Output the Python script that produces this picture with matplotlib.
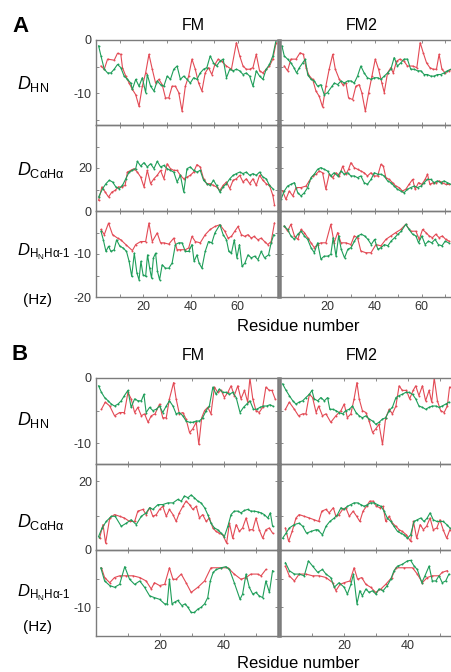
import matplotlib
matplotlib.use("Agg")
import matplotlib.pyplot as plt
from matplotlib.ticker import MultipleLocator, FixedLocator

plt.rcParams['font.family'] = ['Liberation Sans', 'DejaVu Sans']
plt.rcParams['axes.unicode_minus'] = False
plt.rcParams['mathtext.fontset'] = 'custom'
plt.rcParams['mathtext.rm'] = 'Liberation Sans'
plt.rcParams['mathtext.it'] = 'Liberation Sans:italic'

RED = '#e34a55'
GREEN = '#1f9e5a'

# ---------------- data: (residue, value) lists ----------------
# Panel A, FM
A_FM_HN_red = ([2.1, 3.5, 4.9, 7.7, 9.1, 10.5, 11.2, 12.6, 14.0, 15.4, 16.8, 18.2, 19.6, 21.0, 22.4, 23.8, 25.2, 26.6, 28.0, 29.4, 30.8, 32.2, 33.6, 35.0, 36.4, 37.8, 39.2, 40.6, 42.0, 43.4, 44.8, 46.2, 47.6, 49.0, 50.3, 51.7, 53.1, 55.2, 57.3, 59.4, 60.8, 62.2, 63.6, 65.0, 66.4, 67.8, 69.2, 70.6, 72.0, 73.4, 74.8, 76.2],
               [-4.9, -5.5, -3.6, -3.8, -2.5, -2.7, -5.2, -6.8, -8.1, -9.3, -10.3, -12.5, -8.7, -6.2, -2.7, -5.5, -8.1, -7.4, -8.4, -10.9, -10.9, -8.7, -8.7, -9.9, -13.4, -8.7, -6.8, -3.6, -5.5, -8.1, -9.6, -6.2, -5.2, -6.5, -4.6, -3.6, -4.0, -4.9, -5.5, -0.5, -3.0, -4.9, -5.5, -5.5, -5.2, -2.7, -5.8, -6.2, -5.5, -4.9, -3.6, -0.5])
A_FM_HN_green = ([1.1, 2.1, 3.5, 4.9, 6.3, 7.7, 9.1, 10.5, 11.9, 13.3, 14.7, 15.4, 16.8, 18.2, 19.6, 21.0, 21.7, 23.1, 24.5, 25.9, 27.3, 28.7, 30.1, 31.5, 32.9, 34.3, 35.7, 37.1, 38.5, 39.9, 41.3, 42.7, 44.1, 45.5, 46.9, 48.3, 49.7, 51.0, 52.4, 53.8, 55.2, 56.6, 58.0, 59.4, 60.8, 62.2, 63.6, 65.0, 66.4, 67.8, 69.2, 70.6, 72.0, 73.4, 74.8, 76.2],
                 [-1.1, -3.0, -5.5, -6.2, -6.2, -5.5, -4.6, -5.2, -6.8, -7.4, -8.1, -9.3, -7.4, -8.7, -7.1, -9.9, -6.5, -8.7, -9.6, -7.7, -8.4, -8.7, -6.8, -7.4, -5.5, -4.9, -7.4, -6.8, -7.4, -8.1, -7.1, -7.4, -6.2, -5.5, -5.2, -3.0, -4.3, -4.9, -4.0, -3.6, -7.1, -5.5, -5.8, -5.5, -5.8, -6.5, -6.2, -6.8, -8.7, -5.8, -6.8, -7.4, -5.5, -4.6, -3.0, 0.0])
A_FM_CA_red = ([1.1, 2.5, 3.9, 5.3, 6.7, 8.1, 9.5, 10.9, 12.3, 13.3, 14.7, 16.1, 17.5, 18.9, 20.3, 21.7, 23.1, 24.5, 25.9, 27.3, 28.7, 30.1, 31.5, 32.9, 34.3, 35.7, 37.1, 38.5, 39.9, 41.3, 42.7, 44.1, 45.5, 46.9, 48.3, 49.7, 51.0, 52.4, 53.8, 55.2, 56.6, 58.0, 59.4, 60.8, 62.2, 63.6, 65.0, 66.4, 67.8, 69.2, 70.6, 72.0, 73.4, 74.8, 75.5],
               [5.0, 11.2, 8.8, 6.5, 8.8, 9.6, 11.2, 11.2, 11.9, 18.1, 18.9, 19.7, 18.1, 15.8, 11.2, 18.9, 12.7, 15.0, 16.6, 18.9, 15.0, 22.0, 19.7, 18.9, 18.9, 16.6, 15.0, 15.8, 16.6, 18.1, 21.6, 20.5, 15.0, 12.7, 12.7, 11.9, 11.2, 9.6, 11.9, 13.5, 10.4, 14.3, 15.0, 16.6, 13.5, 15.0, 12.7, 15.0, 11.9, 16.6, 14.3, 12.7, 11.9, 7.3, 2.9])
A_FM_CA_green = ([1.1, 2.8, 4.2, 5.6, 7.0, 8.4, 9.8, 11.2, 12.6, 14.0, 15.4, 16.8, 17.5, 18.9, 20.3, 21.7, 23.1, 24.5, 25.9, 27.3, 28.7, 30.1, 31.5, 32.9, 34.3, 35.7, 37.1, 38.5, 39.9, 41.3, 42.7, 44.1, 45.5, 46.9, 48.3, 49.7, 51.0, 52.4, 53.8, 55.2, 56.6, 58.0, 59.4, 60.8, 62.2, 63.6, 65.0, 66.4, 67.8, 69.2, 70.6, 72.0, 73.4, 74.8],
                 [6.5, 10.4, 12.7, 14.3, 13.5, 11.2, 10.4, 11.9, 15.0, 18.1, 18.9, 19.7, 23.1, 20.9, 22.5, 20.5, 22.0, 19.7, 23.1, 20.5, 21.2, 19.7, 18.9, 18.1, 13.5, 16.6, 8.8, 19.7, 20.5, 18.9, 18.1, 18.9, 14.3, 12.7, 11.9, 14.3, 11.9, 8.8, 11.2, 12.7, 15.0, 16.6, 17.4, 18.1, 17.4, 18.1, 16.6, 17.4, 16.6, 18.1, 15.8, 15.0, 11.9, 10.4])
A_FM_HA_red = ([2.1, 3.5, 5.3, 7.0, 9.1, 10.5, 12.6, 15.4, 16.8, 18.9, 21.0, 22.4, 23.8, 25.9, 27.3, 28.7, 30.8, 32.9, 34.3, 35.7, 37.8, 39.2, 40.6, 42.0, 44.1, 46.2, 48.3, 50.3, 52.4, 54.5, 55.9, 57.3, 58.7, 60.1, 61.5, 62.9, 64.3, 65.7, 66.9, 68.5, 69.9, 71.3, 72.7, 74.1, 75.5],
               [-4.3, -5.5, -2.8, -5.5, -6.3, -6.7, -7.8, -9.2, -7.8, -7.1, -7.1, -2.8, -7.1, -5.1, -7.4, -7.4, -7.7, -6.3, -9.0, -9.0, -9.0, -8.6, -5.9, -7.1, -7.4, -5.5, -4.3, -3.6, -3.2, -4.7, -6.3, -5.9, -4.7, -3.6, -5.5, -5.9, -5.5, -6.3, -5.9, -6.7, -6.3, -7.1, -7.8, -7.1, -2.8])
A_FM_HA_green = ([2.1, 3.1, 4.2, 5.3, 6.3, 7.7, 8.7, 10.1, 11.5, 12.9, 14.0, 15.1, 16.2, 17.3, 18.2, 19.0, 19.9, 21.0, 21.8, 22.7, 23.5, 24.3, 25.2, 26.0, 26.9, 28.0, 29.4, 30.8, 32.2, 33.6, 35.0, 36.4, 37.8, 39.2, 40.6, 41.5, 42.7, 43.6, 44.8, 46.2, 47.6, 49.0, 50.3, 52.4, 53.8, 55.2, 56.2, 57.3, 58.5, 59.6, 60.7, 61.8, 63.0, 64.3, 65.7, 67.1, 68.5, 69.9, 71.3, 73.0, 74.1, 75.2],
                 [-4.7, -6.7, -9.4, -8.2, -9.4, -9.0, -6.7, -8.2, -8.6, -9.4, -11.7, -15.2, -9.8, -14.4, -16.0, -11.7, -14.8, -15.2, -10.2, -13.3, -15.6, -10.9, -9.8, -14.0, -16.0, -12.5, -13.3, -13.3, -12.1, -7.8, -7.4, -7.4, -9.4, -9.4, -7.8, -11.7, -10.2, -12.1, -13.3, -9.4, -7.1, -7.4, -5.1, -3.2, -5.5, -6.7, -9.4, -9.8, -6.7, -10.9, -7.8, -12.9, -12.1, -10.2, -10.9, -10.5, -11.3, -9.4, -10.9, -10.2, -7.4, -5.5])

# Panel A, FM2
A_FM2_HN_red = ([1.8, 3.2, 4.6, 6.8, 8.5, 9.9, 11.0, 12.4, 13.8, 15.2, 16.6, 18.0, 19.4, 20.8, 22.3, 23.4, 25.1, 26.5, 27.9, 29.0, 30.7, 32.1, 33.5, 34.6, 36.1, 37.5, 38.9, 40.3, 41.7, 43.1, 44.1, 45.5, 46.9, 47.9, 49.3, 50.7, 52.5, 53.9, 56.1, 57.9, 59.3, 60.6, 62.0, 63.4, 64.8, 66.2, 67.3, 68.5, 69.9, 71.3, 72.7],
                [-4.9, -5.8, -3.6, -3.6, -2.4, -2.7, -5.2, -6.8, -7.4, -9.6, -10.6, -12.6, -8.7, -5.5, -2.7, -5.5, -7.4, -8.4, -8.1, -10.9, -11.2, -8.7, -8.4, -9.9, -13.4, -9.9, -6.8, -3.6, -5.5, -8.1, -9.9, -6.2, -5.2, -6.2, -4.0, -3.6, -4.0, -4.9, -4.9, -5.2, -0.5, -2.4, -4.3, -5.2, -5.5, -5.5, -2.7, -5.5, -6.2, -5.8, -5.5])
A_FM2_HN_green = ([0.8, 1.8, 3.2, 4.6, 5.9, 7.0, 8.2, 9.6, 10.7, 11.7, 13.1, 14.5, 15.9, 17.3, 18.7, 20.1, 22.0, 23.0, 24.4, 25.8, 27.2, 28.6, 30.0, 31.4, 32.8, 34.2, 35.6, 37.0, 38.5, 39.9, 41.3, 42.7, 44.1, 45.5, 46.9, 48.3, 49.7, 51.1, 52.5, 53.9, 55.3, 56.8, 58.2, 59.6, 61.0, 62.4, 63.8, 65.2, 66.6, 68.0, 69.4, 70.8, 72.3],
                  [-1.1, -3.0, -3.6, -4.3, -5.2, -6.2, -5.2, -4.3, -3.6, -6.5, -7.4, -7.7, -8.7, -8.4, -10.3, -9.9, -8.7, -8.1, -8.4, -7.7, -8.1, -7.7, -7.7, -8.1, -6.8, -4.9, -6.2, -7.1, -7.4, -7.1, -7.1, -7.4, -6.8, -6.2, -5.5, -3.3, -4.9, -4.3, -3.6, -3.6, -5.5, -5.5, -5.8, -5.8, -6.5, -6.5, -6.8, -6.8, -6.5, -6.5, -6.2, -5.8, -5.5])
A_FM2_CA_red = ([1.1, 2.5, 3.9, 5.4, 6.8, 8.9, 11.0, 12.4, 13.8, 15.2, 16.6, 18.0, 19.4, 20.8, 22.3, 23.7, 25.1, 26.5, 27.9, 29.0, 30.0, 31.4, 32.8, 34.2, 35.6, 37.0, 38.5, 39.9, 41.3, 42.7, 43.7, 44.8, 46.2, 47.6, 49.0, 50.4, 51.8, 53.2, 54.6, 56.1, 57.2, 58.6, 60.0, 61.4, 62.4, 63.4, 64.8, 65.9, 67.3, 68.7, 70.1, 71.5],
                [9.3, 5.4, 9.3, 7.0, 10.9, 10.9, 11.6, 14.0, 16.3, 17.1, 18.6, 17.8, 10.1, 17.1, 15.5, 17.8, 16.3, 20.9, 17.1, 19.4, 22.5, 20.2, 19.4, 18.6, 17.8, 16.3, 17.8, 16.3, 16.3, 21.7, 20.9, 15.5, 14.7, 13.2, 11.6, 10.9, 9.3, 10.1, 12.4, 14.7, 10.1, 13.2, 12.4, 14.7, 17.1, 12.4, 13.2, 13.2, 14.0, 13.2, 12.4, 12.4])
A_FM2_CA_green = ([0.4, 1.8, 3.2, 4.6, 6.1, 7.5, 8.9, 10.3, 11.7, 13.1, 14.5, 15.9, 17.3, 18.7, 20.1, 21.5, 22.9, 24.4, 25.8, 27.2, 28.6, 30.0, 31.4, 32.8, 34.2, 35.6, 37.0, 38.5, 39.9, 41.3, 42.7, 44.1, 45.5, 46.9, 48.3, 49.7, 51.1, 52.5, 53.9, 55.3, 56.8, 58.2, 59.6, 61.0, 62.4, 63.8, 65.2, 66.6, 68.0, 69.4, 70.8, 72.3],
                  [5.4, 9.3, 11.6, 12.4, 13.2, 8.5, 7.0, 8.5, 10.9, 15.5, 17.1, 19.4, 20.2, 19.4, 18.6, 16.3, 17.8, 16.3, 18.6, 17.1, 17.8, 16.3, 16.3, 15.5, 16.3, 13.2, 12.4, 14.7, 17.8, 17.1, 17.1, 16.3, 14.0, 13.2, 11.6, 10.1, 9.3, 8.5, 10.1, 10.9, 11.6, 10.9, 11.6, 13.2, 14.7, 14.7, 13.2, 14.0, 13.2, 14.0, 13.2, 12.4])
A_FM2_HA_red = ([1.8, 3.2, 4.6, 6.1, 7.5, 8.9, 10.3, 11.7, 13.1, 14.5, 15.9, 17.3, 19.4, 21.5, 22.9, 24.4, 25.8, 27.9, 30.0, 31.4, 32.8, 34.2, 36.3, 38.5, 40.6, 42.7, 44.8, 46.9, 49.0, 51.1, 53.2, 55.3, 57.5, 58.9, 60.3, 61.7, 63.1, 64.5, 65.9, 67.3, 68.7, 70.1, 71.5],
                [-3.5, -4.7, -3.1, -5.8, -6.6, -4.3, -5.0, -6.2, -7.4, -8.5, -7.8, -7.4, -7.4, -3.1, -7.4, -5.0, -7.4, -7.4, -7.8, -5.8, -6.2, -9.3, -9.7, -9.7, -7.8, -8.1, -6.6, -5.8, -5.0, -4.3, -3.1, -4.7, -4.7, -6.6, -4.3, -5.0, -5.8, -6.2, -5.4, -6.2, -5.8, -6.6, -7.0])
A_FM2_HA_green = ([1.8, 3.2, 4.6, 6.1, 7.5, 8.9, 10.3, 11.7, 13.1, 14.5, 15.9, 17.3, 18.7, 20.1, 21.5, 22.5, 23.7, 24.8, 25.9, 27.3, 28.7, 30.1, 31.5, 32.9, 34.4, 35.8, 37.2, 38.6, 40.0, 41.4, 42.8, 44.2, 45.6, 47.0, 48.5, 49.9, 51.3, 53.2, 54.6, 56.1, 57.5, 58.6, 60.0, 61.4, 62.8, 64.2, 65.6, 67.0, 68.5, 69.9, 71.3],
                  [-3.5, -4.3, -5.8, -6.6, -5.4, -4.7, -5.8, -6.6, -8.5, -9.7, -7.4, -11.2, -10.5, -10.5, -10.1, -6.2, -10.5, -5.8, -8.9, -10.9, -8.9, -8.5, -7.0, -5.8, -5.4, -5.8, -6.6, -7.8, -6.6, -8.9, -8.5, -7.8, -8.1, -7.0, -6.2, -5.4, -4.7, -3.1, -4.3, -5.4, -5.8, -7.4, -5.8, -7.8, -7.0, -7.4, -6.6, -7.8, -8.1, -7.0, -7.4])

# Panel B, FM
B_FM_HN_red = ([1.7, 2.9, 4.3, 5.8, 7.4, 8.9, 10.0, 11.0, 12.1, 13.1, 14.2, 15.2, 16.3, 17.3, 18.5, 19.9, 20.9, 22.0, 23.0, 24.3, 25.1, 26.1, 27.2, 28.2, 29.3, 30.3, 31.4, 32.2, 33.1, 34.0, 35.0, 36.0, 37.1, 38.1, 39.2, 40.2, 41.3, 42.3, 43.3, 44.4, 45.4, 46.5, 47.5, 48.2, 49.1, 50.1, 51.1, 52.2, 53.2, 54.3, 55.1, 56.1],
               [-4.8, -3.7, -4.3, -5.8, -5.3, -5.3, -2.2, -3.2, -5.3, -4.5, -5.8, -5.5, -6.8, -5.8, -5.5, -4.0, -6.1, -6.1, -3.2, -0.7, -3.2, -5.5, -5.3, -6.3, -8.4, -7.8, -6.8, -10.2, -6.1, -5.0, -4.5, -5.5, -1.4, -2.2, -1.9, -3.0, -2.2, -1.2, -2.7, -1.2, -3.2, -1.9, -3.7, 0.0, -3.2, -5.0, -5.3, -4.5, -1.4, -1.9, -1.9, -3.2])
B_FM_HN_green = ([0.8, 1.7, 2.7, 3.8, 4.8, 5.8, 6.9, 7.9, 8.9, 10.0, 11.0, 12.1, 13.1, 14.2, 15.0, 15.7, 16.8, 17.8, 18.9, 19.9, 20.9, 22.0, 23.0, 24.1, 25.1, 26.1, 27.2, 28.2, 29.3, 30.3, 31.4, 32.4, 33.4, 34.5, 35.5, 36.6, 37.6, 38.6, 39.7, 40.7, 41.8, 42.8, 43.9, 45.1, 46.2, 47.2, 48.2, 49.3, 50.3, 51.4, 52.4, 53.4, 54.5, 55.3],
                 [-1.2, -2.2, -3.0, -3.5, -4.0, -4.3, -4.0, -3.5, -2.7, -1.9, -4.5, -3.2, -3.5, -3.5, -2.5, -5.3, -4.5, -5.0, -4.8, -4.3, -5.3, -4.3, -3.5, -4.3, -5.5, -5.3, -5.8, -6.6, -6.8, -6.8, -6.6, -6.6, -6.1, -5.0, -4.3, -1.4, -2.5, -1.7, -2.2, -2.2, -2.5, -2.2, -3.0, -5.3, -4.5, -4.0, -3.5, -4.8, -4.8, -4.5, -4.3, -4.3, -4.1, -4.3])
B_FM_CA_red = ([1.1, 2.2, 3.0, 4.3, 5.8, 7.4, 8.9, 10.5, 12.1, 13.1, 14.7, 15.7, 16.8, 17.8, 18.9, 19.9, 20.9, 22.0, 23.0, 24.1, 25.1, 26.1, 27.2, 28.2, 29.3, 30.3, 31.4, 32.4, 33.4, 34.5, 35.5, 36.6, 37.6, 38.6, 39.7, 40.9, 41.8, 42.8, 43.9, 44.9, 45.9, 47.0, 48.0, 49.1, 50.1, 51.1, 52.2, 53.2, 54.3, 55.3],
               [3.4, 7.4, 2.0, 9.3, 10.3, 9.8, 9.3, 8.3, 8.3, 11.3, 11.8, 10.3, 12.3, 9.8, 10.3, 11.8, 12.7, 9.8, 11.8, 10.3, 8.3, 10.8, 12.7, 14.2, 13.2, 11.8, 12.7, 9.3, 10.3, 8.3, 9.3, 6.4, 5.4, 4.9, 4.4, 2.0, 7.8, 3.4, 7.4, 5.4, 6.4, 9.3, 5.9, 5.9, 9.3, 5.9, 3.4, 5.9, 6.4, 4.9])
B_FM_CA_green = ([0.8, 1.9, 3.2, 4.8, 6.0, 7.9, 9.5, 11.0, 12.6, 14.2, 15.7, 16.8, 17.8, 19.4, 20.9, 22.5, 24.1, 25.6, 26.7, 27.7, 28.8, 29.8, 30.8, 31.9, 32.9, 34.0, 35.0, 36.0, 37.1, 38.1, 39.2, 40.2, 41.3, 42.3, 43.3, 44.4, 45.4, 46.5, 47.5, 48.5, 49.6, 50.6, 51.7, 52.7, 53.8, 54.6, 55.3],
                 [3.9, 6.4, 8.3, 9.8, 9.8, 6.9, 7.8, 8.8, 7.4, 9.8, 10.8, 12.3, 11.8, 13.2, 13.2, 13.7, 13.7, 14.7, 14.2, 15.7, 15.2, 16.0, 15.2, 14.2, 13.7, 12.3, 10.3, 7.8, 6.4, 5.9, 4.9, 3.9, 6.9, 10.3, 11.3, 11.3, 10.8, 11.5, 11.8, 11.3, 11.3, 11.1, 10.8, 10.3, 9.3, 10.8, 6.9])
B_FM_HA_red = ([1.7, 2.7, 4.3, 5.8, 7.4, 9.5, 11.6, 13.7, 15.7, 17.3, 18.3, 19.9, 21.5, 23.0, 24.1, 25.1, 26.7, 28.2, 29.8, 31.9, 34.0, 36.0, 39.0, 41.3, 43.3, 45.4, 47.0, 48.5, 50.6, 51.7, 53.2],
               [-3.1, -4.8, -5.7, -4.8, -4.5, -4.5, -4.5, -4.8, -5.4, -6.8, -5.7, -6.2, -6.0, -3.1, -5.1, -5.1, -4.2, -5.7, -7.4, -6.5, -5.4, -3.1, -3.1, -3.1, -4.2, -5.1, -4.8, -4.2, -4.2, -4.5, -3.4])
B_FM_HA_green = ([1.5, 2.7, 4.3, 5.8, 7.4, 9.0, 10.5, 12.1, 13.7, 15.2, 16.8, 18.3, 19.9, 21.5, 22.3, 23.0, 23.8, 24.6, 25.6, 26.9, 27.9, 28.8, 29.8, 30.8, 31.9, 32.9, 34.0, 35.0, 35.8, 36.7, 37.7, 39.2, 40.7, 41.8, 43.3, 45.1, 45.9, 47.0, 48.0, 49.1, 50.1, 51.1, 52.2, 53.2, 54.3, 55.3],
                 [-3.1, -5.4, -6.2, -6.5, -6.0, -2.9, -5.1, -6.0, -5.4, -6.5, -8.0, -8.3, -8.6, -9.4, -9.4, -5.1, -9.4, -9.1, -8.8, -9.7, -9.4, -10.0, -10.9, -10.9, -10.3, -10.0, -9.4, -8.3, -5.4, -3.9, -3.4, -3.1, -2.9, -3.4, -5.7, -8.6, -7.7, -4.2, -6.5, -7.7, -7.4, -8.0, -8.3, -5.4, -7.4, -3.6])

# Panel B, FM2
B_FM2_HN_red = ([1.7, 2.9, 4.5, 5.8, 7.1, 8.1, 9.2, 10.2, 11.3, 12.1, 13.3, 14.4, 15.9, 17.5, 19.1, 20.1, 21.1, 22.2, 23.2, 24.1, 24.8, 25.8, 26.9, 27.9, 29.0, 30.0, 31.0, 32.1, 33.1, 34.2, 35.2, 36.3, 37.3, 38.3, 39.6, 40.6, 41.7, 42.5, 43.5, 44.6, 45.6, 46.7, 47.5, 48.3, 49.3, 50.3, 51.4, 52.4, 53.1],
                [-4.8, -3.7, -4.8, -5.8, -5.5, -5.5, -2.5, -3.0, -5.3, -4.3, -5.8, -5.5, -6.8, -5.8, -5.0, -4.0, -6.1, -5.5, -3.2, -0.7, -3.2, -5.0, -5.3, -6.6, -8.4, -7.8, -7.1, -10.2, -6.1, -4.8, -5.5, -4.3, -1.2, -1.9, -1.9, -3.2, -1.9, -1.2, -2.7, -1.2, -3.5, -1.9, -3.7, 0.0, -3.5, -5.0, -5.3, -4.3, -1.4])
B_FM2_HN_green = ([0.8, 1.9, 2.9, 4.0, 5.0, 6.0, 7.1, 8.1, 9.2, 10.0, 10.7, 11.8, 12.8, 13.9, 14.9, 15.6, 16.5, 17.5, 18.5, 19.6, 20.6, 21.7, 22.7, 23.8, 24.8, 25.8, 26.9, 27.9, 29.0, 30.0, 31.0, 32.1, 33.1, 34.2, 35.2, 36.3, 37.3, 38.3, 39.4, 40.4, 41.5, 42.5, 43.5, 44.6, 45.6, 46.7, 47.7, 48.8, 49.8, 50.8, 51.9, 52.9],
                  [-0.9, -1.9, -2.7, -3.5, -4.0, -3.7, -3.5, -3.0, -2.5, -1.9, -3.2, -3.5, -3.0, -3.5, -3.0, -4.8, -4.8, -5.0, -5.3, -5.5, -5.0, -4.8, -4.3, -5.3, -5.8, -6.1, -5.8, -6.3, -6.6, -7.1, -6.8, -6.3, -6.1, -5.0, -4.5, -3.0, -2.7, -2.5, -2.2, -2.2, -2.5, -3.2, -4.3, -4.5, -4.8, -4.5, -4.3, -4.3, -4.5, -4.3, -4.0, -3.7])
B_FM2_CA_red = ([1.7, 2.7, 3.8, 5.0, 6.0, 7.6, 9.2, 10.7, 12.1, 13.1, 14.4, 15.4, 16.7, 17.5, 18.5, 19.6, 20.6, 21.7, 22.9, 24.0, 25.0, 26.0, 27.1, 28.1, 29.2, 30.2, 31.3, 32.3, 33.1, 34.2, 35.2, 36.3, 37.3, 38.3, 39.6, 40.9, 41.8, 42.8, 43.9, 44.9, 45.9, 47.0, 48.0, 49.1, 50.1, 51.1, 52.2, 53.2],
                [6.4, 2.5, 5.4, 9.3, 10.3, 9.8, 9.3, 8.8, 8.3, 11.3, 11.8, 10.8, 12.3, 9.8, 10.3, 11.8, 12.3, 9.8, 11.3, 9.8, 8.3, 11.3, 12.7, 14.2, 14.2, 12.7, 12.3, 12.7, 8.3, 9.8, 7.8, 6.9, 5.9, 5.4, 4.4, 2.5, 8.3, 3.4, 7.4, 5.9, 6.9, 9.3, 5.9, 6.4, 8.8, 5.9, 3.4, 5.9])
B_FM2_CA_green = ([0.8, 1.9, 2.9, 4.5, 6.0, 7.1, 8.3, 9.7, 11.3, 11.8, 13.3, 14.4, 15.6, 17.0, 18.0, 19.1, 20.1, 21.1, 22.2, 23.2, 24.3, 25.3, 26.4, 27.4, 28.4, 29.5, 30.5, 31.6, 32.6, 33.6, 34.7, 35.7, 36.8, 37.8, 38.9, 39.9, 40.9, 42.0, 43.0, 44.1, 45.1, 46.1, 47.0, 48.0, 49.1, 50.1, 51.1, 52.2, 53.2],
                  [3.4, 4.9, 6.4, 7.4, 7.8, 6.9, 4.9, 5.4, 5.9, 5.9, 4.4, 6.9, 8.3, 9.3, 10.3, 12.3, 11.8, 12.7, 13.2, 13.7, 13.7, 13.2, 12.7, 13.2, 13.7, 13.7, 13.2, 12.7, 11.3, 9.3, 8.3, 6.9, 5.4, 4.9, 4.4, 3.4, 4.4, 8.3, 8.8, 9.3, 8.3, 9.3, 10.8, 8.8, 8.3, 8.3, 8.3, 7.4, 6.4])
B_FM2_HA_red = ([1.7, 2.9, 4.5, 6.0, 8.1, 10.2, 12.3, 14.4, 16.5, 17.5, 18.8, 20.1, 21.9, 23.2, 24.3, 25.6, 26.9, 28.4, 30.0, 31.6, 33.1, 35.0, 36.3, 38.9, 41.5, 43.0, 44.6, 46.1, 47.7, 49.8, 50.8, 52.4],
                [-2.8, -4.5, -5.4, -4.2, -4.2, -4.5, -4.5, -4.8, -5.7, -7.1, -6.0, -5.7, -5.4, -3.1, -5.1, -4.8, -6.0, -6.5, -7.4, -6.8, -6.0, -4.8, -3.1, -3.1, -3.1, -4.2, -5.7, -4.8, -4.5, -4.5, -3.9, -3.6])
B_FM2_HA_green = ([1.7, 2.9, 4.5, 6.0, 7.6, 8.9, 10.2, 11.8, 13.3, 14.4, 15.9, 17.0, 18.5, 20.1, 21.1, 22.2, 23.0, 24.1, 25.0, 25.8, 26.9, 27.9, 29.0, 30.0, 31.0, 32.3, 33.6, 34.7, 35.7, 36.8, 38.3, 39.9, 40.9, 42.0, 43.0, 44.4, 45.4, 46.7, 47.7, 48.8, 49.8, 50.8, 51.9, 52.9],
                  [-2.2, -3.6, -4.2, -4.2, -4.5, -1.9, -2.8, -3.9, -3.4, -4.2, -4.8, -6.5, -5.7, -6.5, -7.7, -6.0, -4.2, -9.4, -7.1, -8.0, -6.8, -7.4, -7.1, -7.7, -6.8, -7.1, -6.2, -5.1, -3.6, -2.8, -2.5, -1.9, -1.8, -2.8, -3.4, -5.7, -4.5, -2.8, -5.4, -5.4, -4.5, -5.7, -5.4, -4.2])

panel_A = {'FM': [(A_FM_HN_red, A_FM_HN_green), (A_FM_CA_red, A_FM_CA_green), (A_FM_HA_red, A_FM_HA_green)],
           'FM2': [(A_FM2_HN_red, A_FM2_HN_green), (A_FM2_CA_red, A_FM2_CA_green), (A_FM2_HA_red, A_FM2_HA_green)]}
panel_B = {'FM': [(B_FM_HN_red, B_FM_HN_green), (B_FM_CA_red, B_FM_CA_green), (B_FM_HA_red, B_FM_HA_green)],
           'FM2': [(B_FM2_HN_red, B_FM2_HN_green), (B_FM2_CA_red, B_FM2_CA_green), (B_FM2_HA_red, B_FM2_HA_green)]}

A_ylims = [(-16, 0), (0, 40), (-20, 0)]
A_yticks = [([0, -10], [-15, -5]), ([0, 20], [10, 30]), ([-10, -20], [-15, -5])]
B_ylims = [(-13.2, 0), (0, 25), (-15, 0)]
B_yticks = [([0, -10], [-5]), ([0, 20], [10]), ([-10], [-5])]
A_xlim, A_xlabels = (0, 77), [20, 40, 60]
B_xlim, B_xlabels = (0, 57), [20, 40]

row_labels = [r'$D_{\mathrm{HN}}$', r'$D_{\mathrm{C\alpha H\alpha}}$', r'$D_{\mathrm{H_N H\alpha\text{-}1}}$']
row_sizes = [13, 13, 12]

W, H = 452, 672
fig = plt.figure(figsize=(W / 100, H / 100), dpi=100)

SPINE = '#7c7c7c'


def fx(px):
    return px / W


def fy(py):
    return 1 - py / H


def draw_panel(panel, top, rows, ylims, yticks, xlim, xlabels):
    lefts = {'FM': 96, 'FM2': 280}
    width = 182
    for name, left in lefts.items():
        for r in range(3):
            y0 = top + rows[r]
            y1 = top + rows[r + 1]
            ax = fig.add_axes([fx(left), fy(y1), width / W, (y1 - y0) / H])
            red, green = panel[name][r]
            ax.plot(red[0], red[1], color=RED, lw=0.8, marker='o', ms=1.4, mew=0)
            ax.plot(green[0], green[1], color=GREEN, lw=0.8, marker='o', ms=1.4, mew=0)
            ax.set_xlim(*xlim)
            ax.set_ylim(*ylims[r])
            major, minor = yticks[r]
            ax.yaxis.set_major_locator(FixedLocator(major))
            ax.yaxis.set_minor_locator(FixedLocator(minor))
            ax.xaxis.set_major_locator(FixedLocator(xlabels))
            ax.xaxis.set_minor_locator(MultipleLocator(10))
            ax.tick_params(which='both', direction='in', length=2.5, width=0.6,
                           color='#777777', top=True, right=True,
                           labelsize=9, labelcolor='#333333', pad=3)
            if name == 'FM2':
                ax.set_yticklabels([])
            if r < 2:
                ax.set_xticklabels([])
            for s in ax.spines.values():
                s.set_color(SPINE)
                s.set_linewidth(1.0)
            if name == 'FM':
                ax.spines['right'].set_linewidth(1.8)
            else:
                ax.spines['left'].set_linewidth(1.8)
            ax.set_facecolor('none')


rowsA = [0, 85, 171, 257]
draw_panel(panel_A, 40, rowsA, A_ylims, A_yticks, A_xlim, A_xlabels)
rowsB = [0, 86, 172, 258]
draw_panel(panel_B, 378, rowsB, B_ylims, B_yticks, B_xlim, B_xlabels)

# labels
for letter, ly in [('A', 27), ('B', 354)]:
    fig.text(fx(12), fy(ly), letter, fontsize=16, fontweight='bold', va='center', ha='left')
for ty in [25, 355]:
    fig.text(fx(193), fy(ty), 'FM', fontsize=11.5, ha='center', va='center')
    fig.text(fx(362), fy(ty), 'FM2', fontsize=11.5, ha='center', va='center')

for ys, hz, rn in [([84, 170, 252], 300, 326), ([420, 522, 593], 627, 664)]:
    for lab, yy, sz in zip(row_labels, ys, row_sizes):
        fig.text(fx(17), fy(yy), lab, fontsize=sz, ha='left', va='center')
    fig.text(fx(23), fy(hz), '(Hz)', fontsize=11, ha='left', va='center')
    fig.text(fx(298), fy(rn), 'Residue number', fontsize=12, ha='center', va='center')

fig.savefig('out.png', dpi=100)
